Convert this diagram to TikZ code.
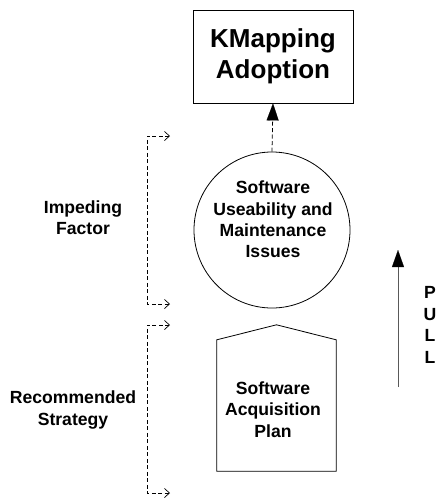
\documentclass[tikz,border=0pt]{standalone}
\usepackage{fontspec}
\setmainfont{Liberation Sans}
\usetikzlibrary{arrows.meta}
\tikzset{
  lbl/.style={align=center, inner sep=0pt, font=\fontsize{17.6}{21.4}\selectfont\bfseries},
  big/.style={align=center, inner sep=0pt, font=\fontsize{26}{31}\selectfont\bfseries},
  shapeline/.style={draw=black, line width=0.8pt},
  bracket/.style={line width=0.7pt, dash pattern=on 4pt off 2.5pt, {Straight Barb[length=5pt,width=9pt,line width=0.7pt]}-{Straight Barb[length=5pt,width=9pt,line width=0.7pt]}},
  mainarrow/.style={line width=0.8pt, -{Triangle[length=17pt,width=12pt,black,fill=black,line width=0.1pt]}},
}
\begin{document}
\begin{tikzpicture}[x=1pt,y=-1pt]
\useasboundingbox (0,0) rectangle (441,499);
% top box
\node[shapeline, rectangle, minimum width=160pt, minimum height=93pt, inner sep=0pt] (adopt) at (273,56.5) {};
\node[big] (adopttext) at (273,56) {KMapping\\Adoption};
% circle
\node[shapeline, circle, minimum size=156pt, inner sep=0pt] (issues) at (272,230) {};
\node[lbl] (issuestext) at (273,219.5) {Software\\Useability and\\Maintenance\\Issues};
% pentagon
\node[minimum width=119pt, minimum height=146pt, inner sep=0pt] (plan) at (276.5,398) {};
\draw[shapeline] (plan.south west) -- ([yshift=-15pt]plan.north west) -- (plan.north) -- ([yshift=-15pt]plan.north east) -- (plan.south east) -- cycle;
\node[lbl] (plantext) at (273,409.5) {Software\\Acquisition\\Plan};
% connector
\draw[mainarrow, dash pattern=on 4pt off 2.5pt] (issues.north) -- (adopt.south);
% side labels
\node[lbl] (impeding) at (83,217.5) {Impeding\\Factor};
\node[lbl] (recommended) at (73,410) {Recommended\\Strategy};
% brackets
\coordinate (b1t) at (170,136);
\coordinate (b1b) at (170,304);
\coordinate (b2t) at (170,325);
\coordinate (b2b) at (170,493);
\draw[bracket] (b1t) -- (147,136) -- (147,304) -- (b1b);
\draw[bracket] (b2t) -- (147,325) -- (147,493) -- (b2b);
% pull arrow
\coordinate (pullbot) at (398,387);
\coordinate (pulltop) at (398,250);
\draw[mainarrow, draw=black!65] (pullbot) -- (pulltop);
\node[lbl, font=\fontsize{17.6}{21.6}\selectfont\bfseries] (pull) at (430,325) {P\\U\\L\\L};
\end{tikzpicture}
\end{document}
